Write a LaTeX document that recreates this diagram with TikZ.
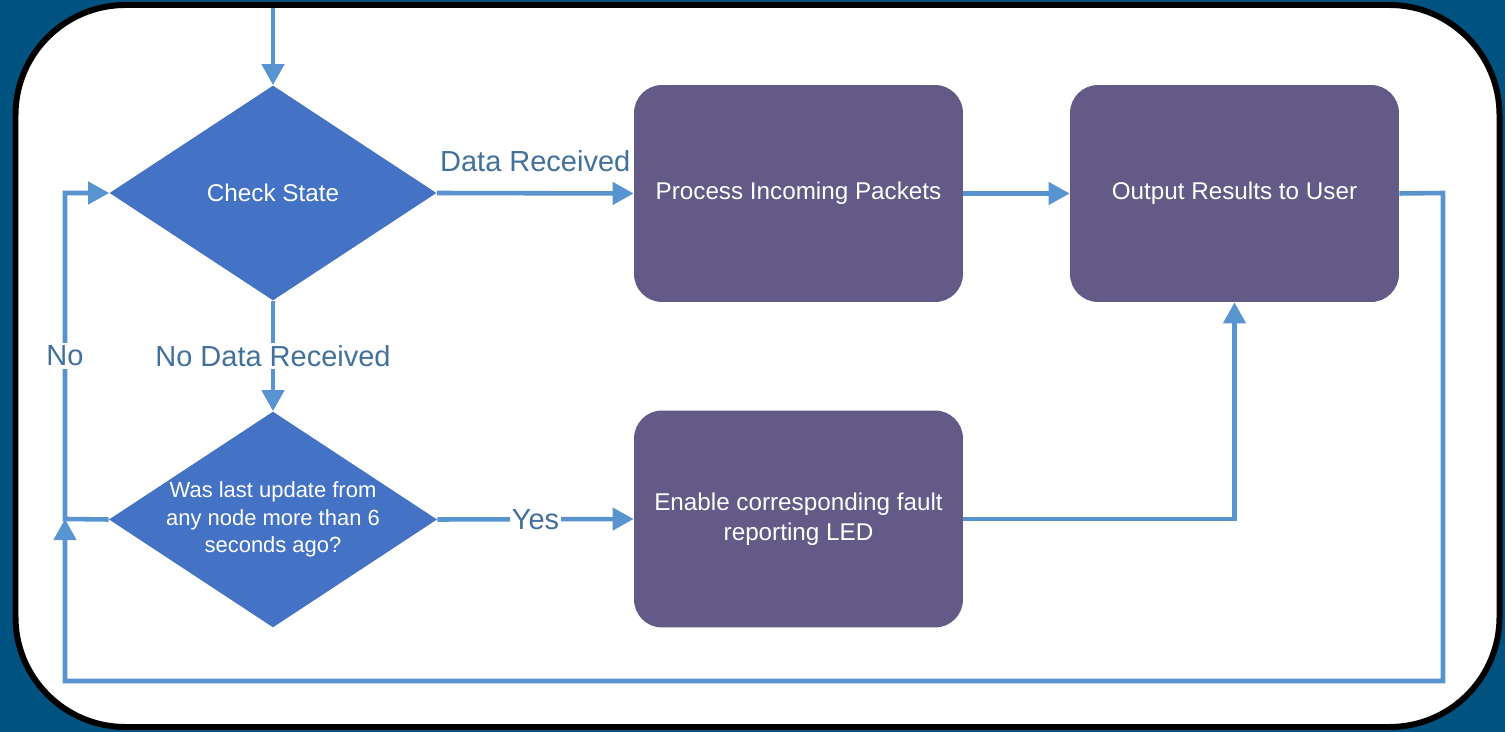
\documentclass[tikz,border=0pt]{standalone}
\usepackage{fontspec}
\setmainfont{Liberation Sans}
\usetikzlibrary{shapes.geometric,arrows.meta}
\definecolor{bgblue}{RGB}{0,82,128}
\definecolor{diac}{RGB}{68,114,196}
\definecolor{boxc}{RGB}{99,90,135}
\definecolor{arrc}{RGB}{88,148,208}
\definecolor{lblc}{RGB}{65,113,156}
\tikzset{
  decision/.style={diamond, fill=diac, text=white, inner sep=0pt, aspect=1.52,
    minimum width=6.54cm, minimum height=4.3cm, align=center},
  procbox/.style={rectangle, rounded corners=0.56cm, fill=boxc, text=white,
    minimum width=6.58cm, minimum height=4.34cm, align=center,
    font=\fontsize{13.8}{17}\selectfont},
  flow/.style={draw=arrc, line width=2.6pt, -{Triangle[length=12pt,width=12.5pt]}},
  lbl/.style={text=lblc, font=\fontsize{16.5}{19}\selectfont, inner sep=1.5pt},
}
\begin{document}
\begin{tikzpicture}[x=0.02cm,y=-0.02cm]
\fill[bgblue] (0,0) rectangle (1505,732);
\useasboundingbox (0,0) rectangle (1505,732);
\draw[line width=3.4pt, fill=white, rounded corners=2.2cm] (15.5,5) rectangle (1499.5,727);

\node[decision, font=\fontsize{13.8}{17}\selectfont] (d1) at (273,193) {Check State};
\node[decision, font=\fontsize{12.5}{15.6}\selectfont] (d2) at (273,519.5) {Was last update from\\any node more than 6\\seconds ago?};
\node[procbox] (p1) at (798.5,193.5) {Process Incoming Packets};
\node[procbox] (p2) at (1234.5,193.5) {Output Results to User};
\node[procbox] (p3) at (798.5,519) {Enable corresponding fault\\reporting LED};

\coordinate (top) at (273,8);
\coordinate (nl1) at (65,519);
\coordinate (nl2) at (65,193);
\coordinate (r1) at (1443,193);
\coordinate (r2) at (1443,681);
\coordinate (r3) at (65,681);

\draw[flow] (top) -- (d1.north);
\draw[flow] (d1.east) -- node[lbl, midway, above=9.5pt] {Data Received} (p1.west);
\draw[flow] (p1.east) -- (p2.west);
\draw[flow] (d1.south) -- node[lbl, midway, fill=white] {No Data Received} (d2.north);
\draw[flow] (d2.east) -- node[lbl, midway, fill=white, inner sep=1pt] {Yes} (p3.west);
\draw[flow] (p3.east) -| (p2.south);
\draw[flow] (d2.west) -- (nl1) -- node[lbl, midway, fill=white] {No} (nl2) -- (d1.west);
\draw[flow] (p2.east) -- (r1) -- (r2) -- (r3) -- (nl1);
\end{tikzpicture}
\end{document}
